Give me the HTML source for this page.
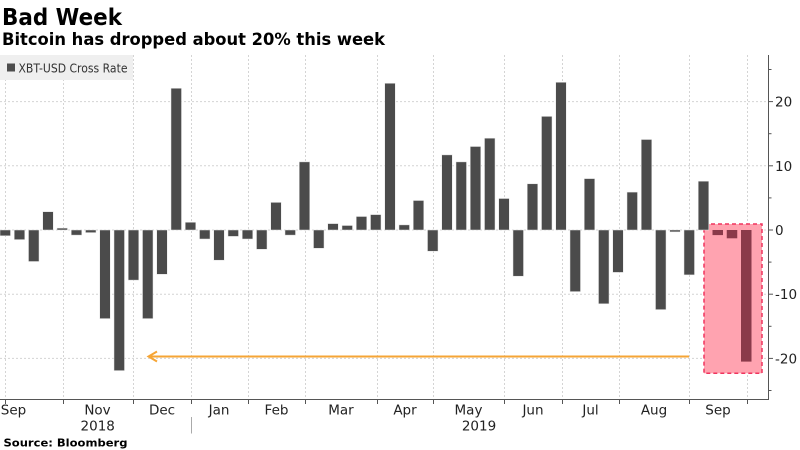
<!DOCTYPE html>
<html>
<head>
<meta charset="utf-8">
<style>
html,body{margin:0;padding:0;background:#fff;}
svg{display:block;}
</style>
</head>
<body>
<svg width="800" height="450" viewBox="0 0 800 450" xmlns="http://www.w3.org/2000/svg">
<rect width="800" height="450" fill="#fff"/>
<text x="2" y="25" font-family="DejaVu Sans, Liberation Sans, sans-serif" font-weight="bold" font-size="23" fill="#000" textLength="120" lengthAdjust="spacingAndGlyphs">Bad Week</text>
<text x="2" y="45" font-family="DejaVu Sans, Liberation Sans, sans-serif" font-weight="bold" font-size="17" fill="#000" textLength="383" lengthAdjust="spacingAndGlyphs">Bitcoin has dropped about 20% this week</text>

<g stroke="#d4d4d4" stroke-width="1" stroke-dasharray="2,2" fill="none">
  <line x1="0" y1="101.6" x2="768" y2="101.6"/>
  <line x1="0" y1="165.8" x2="768" y2="165.8"/>
  <line x1="0" y1="230" x2="768" y2="230"/>
  <line x1="0" y1="294.2" x2="768" y2="294.2"/>
  <line x1="0" y1="358.4" x2="768" y2="358.4"/>
  <line x1="5.5" y1="55" x2="5.5" y2="399"/>
  <line x1="63.5" y1="55" x2="63.5" y2="399"/>
  <line x1="133.5" y1="55" x2="133.5" y2="399"/>
  <line x1="191.5" y1="55" x2="191.5" y2="399"/>
  <line x1="248.5" y1="55" x2="248.5" y2="399"/>
  <line x1="305.5" y1="55" x2="305.5" y2="399"/>
  <line x1="377.5" y1="55" x2="377.5" y2="399"/>
  <line x1="433.5" y1="55" x2="433.5" y2="399"/>
  <line x1="504.5" y1="55" x2="504.5" y2="399"/>
  <line x1="562.5" y1="55" x2="562.5" y2="399"/>
  <line x1="619.5" y1="55" x2="619.5" y2="399"/>
  <line x1="689.5" y1="55" x2="689.5" y2="399"/>
  <line x1="747.5" y1="55" x2="747.5" y2="399"/>
</g>

<rect x="0" y="55" width="133" height="25" fill="#efefef"/>
<rect x="7" y="63.5" width="8" height="8" fill="#4d4d4d"/>
<text x="18.5" y="72.7" font-family="DejaVu Sans, Liberation Sans, sans-serif" font-size="12.5" fill="#333" textLength="109" lengthAdjust="spacingAndGlyphs">XBT-USD Cross Rate</text>

<rect x="704" y="224" width="58" height="149.3" fill="#ffa3b0" stroke="#f0345e" stroke-width="1.5" stroke-dasharray="4,3"/>

<g fill="#4b4b4b" stroke="#e6e6e6" stroke-width="0.5">
  <rect x="0" y="230" width="10.5" height="5.8"/>
  <rect x="14.25" y="230" width="10.5" height="9.6"/>
  <rect x="28.5" y="230" width="10.5" height="31.5"/>
  <rect x="42.75" y="211.7" width="10.5" height="18.3"/>
  <rect x="57" y="228.1" width="10.5" height="1.9"/>
  <rect x="71.25" y="230" width="10.5" height="5.1"/>
  <rect x="85.5" y="230" width="10.5" height="2.6"/>
  <rect x="99.75" y="230" width="10.5" height="88.6"/>
  <rect x="114" y="230" width="10.5" height="140.6"/>
  <rect x="128.25" y="230" width="10.5" height="50.1"/>
  <rect x="142.5" y="230" width="10.5" height="88.6"/>
  <rect x="156.75" y="230" width="10.5" height="44.3"/>
  <rect x="171" y="88.3" width="10.5" height="141.7"/>
  <rect x="185.25" y="222.3" width="10.5" height="7.7"/>
  <rect x="199.5" y="230" width="10.5" height="9.0"/>
  <rect x="213.75" y="230" width="10.5" height="30.2"/>
  <rect x="228" y="230" width="10.5" height="6.4"/>
  <rect x="242.25" y="230" width="10.5" height="9.0"/>
  <rect x="256.5" y="230" width="10.5" height="19.3"/>
  <rect x="270.75" y="202.4" width="10.5" height="27.6"/>
  <rect x="285" y="230" width="10.5" height="5.1"/>
  <rect x="299.25" y="161.9" width="10.5" height="68.1"/>
  <rect x="313.5" y="230" width="10.5" height="18.3"/>
  <rect x="327.75" y="223.6" width="10.5" height="6.4"/>
  <rect x="342" y="225.5" width="10.5" height="4.5"/>
  <rect x="356.25" y="216.5" width="10.5" height="13.5"/>
  <rect x="370.5" y="214.6" width="10.5" height="15.4"/>
  <rect x="384.75" y="83.3" width="10.5" height="146.7"/>
  <rect x="399" y="224.9" width="10.5" height="5.1"/>
  <rect x="413.25" y="200.5" width="10.5" height="29.5"/>
  <rect x="427.5" y="230" width="10.5" height="21.2"/>
  <rect x="441.75" y="154.9" width="10.5" height="75.1"/>
  <rect x="456" y="161.9" width="10.5" height="68.1"/>
  <rect x="470.25" y="146.5" width="10.5" height="83.5"/>
  <rect x="484.5" y="138.2" width="10.5" height="91.8"/>
  <rect x="498.75" y="198.5" width="10.5" height="31.5"/>
  <rect x="513" y="230" width="10.5" height="46.2"/>
  <rect x="527.25" y="183.8" width="10.5" height="46.2"/>
  <rect x="541.5" y="116.4" width="10.5" height="113.6"/>
  <rect x="555.75" y="82.3" width="10.5" height="147.7"/>
  <rect x="570" y="230" width="10.5" height="61.6"/>
  <rect x="584.25" y="178.6" width="10.5" height="51.4"/>
  <rect x="598.5" y="230" width="10.5" height="73.8"/>
  <rect x="612.75" y="230" width="10.5" height="42.4"/>
  <rect x="627" y="192.1" width="10.5" height="37.9"/>
  <rect x="641.25" y="139.5" width="10.5" height="90.5"/>
  <rect x="655.5" y="230" width="10.5" height="79.6"/>
  <rect x="669.75" y="230" width="10.5" height="1.9"/>
  <rect x="684" y="230" width="10.5" height="44.9"/>
  <rect x="698.25" y="181.2" width="10.5" height="48.8"/>
</g>
<g fill="#8a3a4a">
  <rect x="712.5" y="230" width="10.5" height="5.1"/>
  <rect x="726.75" y="230" width="10.5" height="8.3"/>
  <rect x="741" y="230" width="10.5" height="131.6"/>
</g>

<g stroke="#f6a535" stroke-width="2" fill="none">
  <line x1="149" y1="356.5" x2="689" y2="356.5"/>
  <polyline points="157,351.5 148.5,356.5 157,361.5"/>
</g>

<g stroke="#555" stroke-width="1" fill="none">
  <line x1="0" y1="399.5" x2="769" y2="399.5"/>
  <line x1="768.5" y1="55" x2="768.5" y2="400"/>
  <line x1="768.5" y1="101.6" x2="773" y2="101.6"/>
  <line x1="768.5" y1="165.8" x2="773" y2="165.8"/>
  <line x1="768.5" y1="230" x2="773" y2="230"/>
  <line x1="768.5" y1="294.2" x2="773" y2="294.2"/>
  <line x1="768.5" y1="358.4" x2="773" y2="358.4"/>
  <line x1="768.5" y1="69.5" x2="771.5" y2="69.5"/>
  <line x1="768.5" y1="133.7" x2="771.5" y2="133.7"/>
  <line x1="768.5" y1="197.9" x2="771.5" y2="197.9"/>
  <line x1="768.5" y1="262.1" x2="771.5" y2="262.1"/>
  <line x1="768.5" y1="326.3" x2="771.5" y2="326.3"/>
  <line x1="768.5" y1="390.5" x2="771.5" y2="390.5"/>
  <line x1="5.5" y1="399.5" x2="5.5" y2="404"/>
  <line x1="63.5" y1="399.5" x2="63.5" y2="404"/>
  <line x1="133.5" y1="399.5" x2="133.5" y2="404"/>
  <line x1="191.5" y1="399.5" x2="191.5" y2="404"/>
  <line x1="248.5" y1="399.5" x2="248.5" y2="404"/>
  <line x1="305.5" y1="399.5" x2="305.5" y2="404"/>
  <line x1="377.5" y1="399.5" x2="377.5" y2="404"/>
  <line x1="433.5" y1="399.5" x2="433.5" y2="404"/>
  <line x1="504.5" y1="399.5" x2="504.5" y2="404"/>
  <line x1="562.5" y1="399.5" x2="562.5" y2="404"/>
  <line x1="619.5" y1="399.5" x2="619.5" y2="404"/>
  <line x1="689.5" y1="399.5" x2="689.5" y2="404"/>
  <line x1="747.5" y1="399.5" x2="747.5" y2="404"/>
</g>
<line x1="191.5" y1="417" x2="191.5" y2="433.5" stroke="#aaa" stroke-width="1"/>

<g font-family="DejaVu Sans, Liberation Sans, sans-serif" font-size="13.5" fill="#222">
  <text x="775" y="106.6">20</text>
  <text x="775" y="170.8">10</text>
  <text x="775" y="235">0</text>
  <text x="775" y="299.2">-10</text>
  <text x="775" y="363.4">-20</text>
</g>

<g font-family="DejaVu Sans, Liberation Sans, sans-serif" font-size="13.5" fill="#222" text-anchor="middle">
  <text x="13.5" y="414.3">Sep</text>
  <text x="97.5" y="414.3">Nov</text>
  <text x="162" y="414.3">Dec</text>
  <text x="219" y="414.3">Jan</text>
  <text x="276.5" y="414.3">Feb</text>
  <text x="341" y="414.3">Mar</text>
  <text x="405" y="414.3">Apr</text>
  <text x="468.5" y="414.3">May</text>
  <text x="533" y="414.3">Jun</text>
  <text x="590.5" y="414.3">Jul</text>
  <text x="654" y="414.3">Aug</text>
  <text x="718" y="414.3">Sep</text>
  <text x="97.7" y="430.7">2018</text>
  <text x="479" y="430.7">2019</text>
</g>

<text x="3.5" y="446.7" font-family="DejaVu Sans, Liberation Sans, sans-serif" font-weight="bold" font-size="11" fill="#000" textLength="124" lengthAdjust="spacingAndGlyphs">Source: Bloomberg</text>
</svg>
</body>
</html>
